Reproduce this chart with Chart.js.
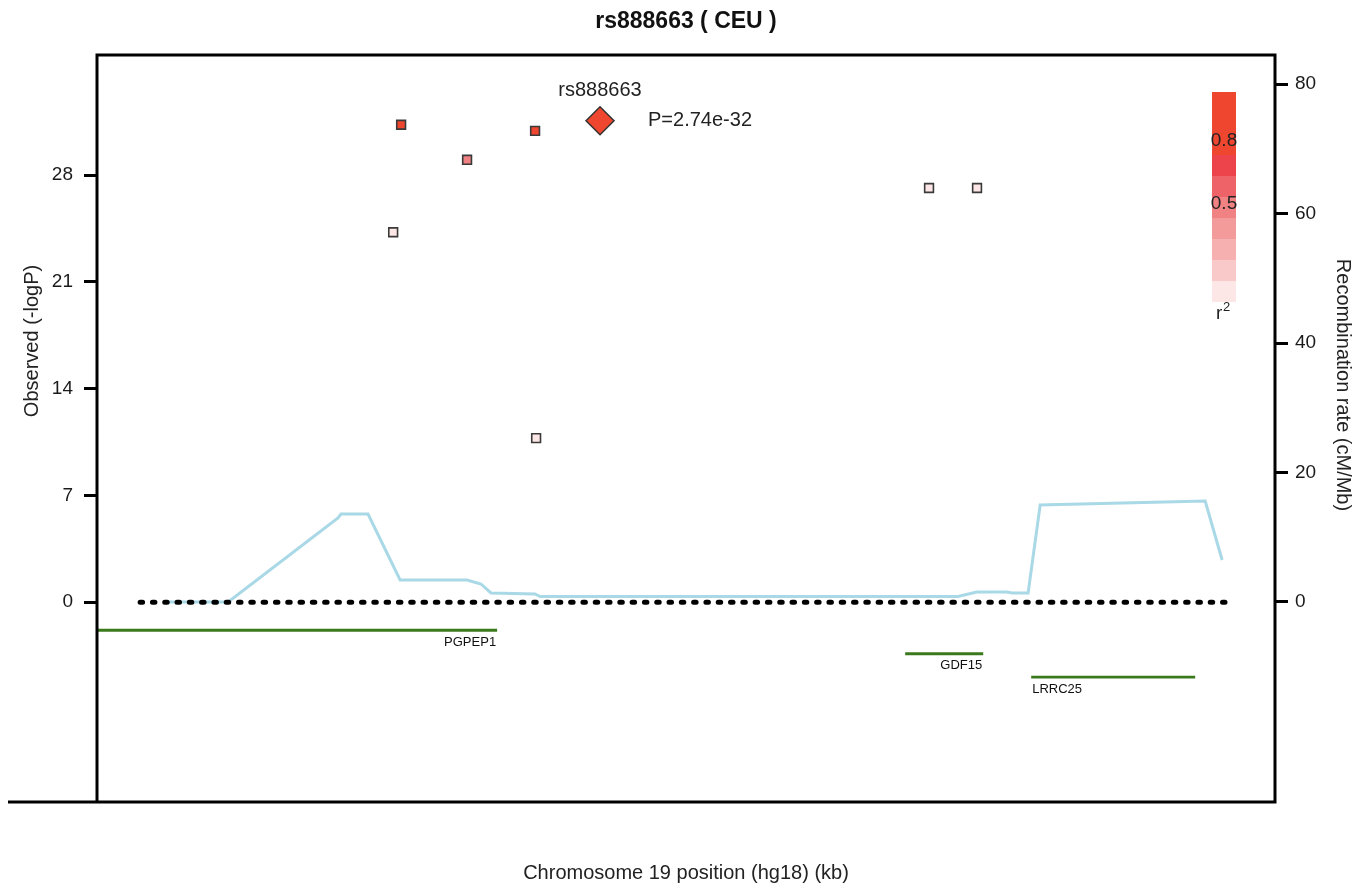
<!DOCTYPE html>
<html>
<head>
<meta charset="utf-8">
<script src="https://cdn.jsdelivr.net/npm/chart.js@4.4.1/dist/chart.umd.min.js"></script>
<style>
  html, body { margin: 0; padding: 0; background: #fff; }
  #wrap { width: 1370px; height: 890px; }
</style>
</head>
<body>
<div id="wrap"><canvas id="locusChart"></canvas></div>
<script>
// SNPs around the index SNP (position kb, -log10 P, r2 with index)
const snpPos  = [18338.04, 18338.35, 18340.92, 18343.57, 18343.61, 18358.92, 18360.79];
const snpLogP = [24.25, 31.3, 29.0, 30.9, 10.75, 27.15, 27.15];
const snpR2   = [0.03, 0.95, 0.45, 0.95, 0.03, 0.03, 0.03];

const indexName = "rs888663";
const indexPos = 18346.10;
const indexLogP = 31.56;
const indexPval = "2.74e-32";

// recombination rate (cM/Mb)
const recombPos  = [18329.27, 18331.61, 18335.89, 18336.01, 18337.06, 18338.31, 18340.92, 18341.46,
                    18341.85, 18343.57, 18343.76, 18360.05, 18360.78, 18361.95, 18362.15, 18362.78,
                    18363.25, 18369.68, 18370.34];
const recombRate = [0, 0, 12.97, 13.59, 13.59, 3.40, 3.40, 2.78,
                    1.39, 1.24, 0.85, 0.85, 1.54, 1.54, 1.39, 1.39,
                    14.98, 15.6, 6.49];

// genes
const geneNames  = ["PGPEP1", "GDF15", "LRRC25"];
const geneStart  = [18313.0, 18357.99, 18362.90];
const geneEnd    = [18342.09, 18361.03, 18369.29];
const geneStrand = ["+", "+", "-"];
const geneRow    = [1, 2, 3];

// axes
const xRange = [18326.5, 18372.4];
const logPTicks = [0, 7, 14, 21, 28];
const recombTicks = [0, 20, 40, 60, 80];
const r2Labels = [0.8, 0.5];

const FONT = '"Liberation Sans", Arial, Helvetica, sans-serif';
const r2Colors = ["#fde6e6", "#f9c9c9", "#f6b0b0", "#f39a9a", "#f08283", "#ee6367", "#ec444a",
                  "#ef4630", "#ef4630", "#ef4630"];
const r2Color = r => r2Colors[Math.min(9, Math.floor(r * 10))];
const rowY = row => -0.3 - 1.54 * row;

const geneSets = geneNames.map((name, i) => ({
  type: "line",
  label: name,
  data: [{ x: geneStart[i], y: rowY(geneRow[i]) }, { x: geneEnd[i], y: rowY(geneRow[i]) }],
  borderColor: "#3a7a1c",
  borderWidth: 2.8,
  pointRadius: 0,
  yAxisID: "y",
  order: 3
}));

const decorations = {
  id: "decorations",
  afterDatasetsDraw(chart) {
    const { ctx, chartArea: a, scales } = chart;
    const x = scales.x, y = scales.y;
    ctx.save();

    // frame, bottom line runs off to the left
    ctx.strokeStyle = "#000";
    ctx.lineWidth = 3;
    ctx.beginPath();
    ctx.moveTo(8, a.bottom);
    ctx.lineTo(a.right, a.bottom);
    ctx.lineTo(a.right, a.top);
    ctx.lineTo(a.left, a.top);
    ctx.lineTo(a.left, a.bottom);
    ctx.stroke();

    // gene labels
    ctx.fillStyle = "#111";
    ctx.font = "13px " + FONT;
    ctx.textBaseline = "middle";
    geneNames.forEach((name, i) => {
      const gy = y.getPixelForValue(rowY(geneRow[i])) + 12;
      if (geneStrand[i] === "+") {
        ctx.textAlign = "right";
        ctx.fillText(name, x.getPixelForValue(geneEnd[i]) - 1, gy);
      } else {
        ctx.textAlign = "left";
        ctx.fillText(name, x.getPixelForValue(geneStart[i]) + 1, gy);
      }
    });

    // index SNP labels
    const ix = x.getPixelForValue(indexPos), iy = y.getPixelForValue(indexLogP);
    ctx.fillStyle = "#222";
    ctx.font = "20px " + FONT;
    ctx.textAlign = "center";
    ctx.fillText(indexName, ix, iy - 30);
    ctx.textAlign = "left";
    ctx.fillText("P=" + indexPval, ix + 48, iy);

    // r2 colour key
    const kx = a.right - 63, ky = a.top + 37, kw = 24, kh = 21;
    for (let i = 0; i < 10; i++) {
      ctx.fillStyle = r2Colors[9 - i];
      ctx.fillRect(kx, ky + i * kh, kw, kh);
    }
    ctx.fillStyle = "#222";
    ctx.font = "19px " + FONT;
    ctx.textAlign = "center";
    r2Labels.forEach(v => ctx.fillText(String(v), kx + kw / 2, ky + (1 - v) * 10 * kh + 7));
    ctx.textAlign = "left";
    ctx.fillText("r", kx + 4, ky + 10 * kh + 12);
    ctx.font = "13px " + FONT;
    ctx.fillText("2", kx + 11, ky + 10 * kh + 5);

    // titles
    ctx.textAlign = "center";
    ctx.fillStyle = "#111";
    ctx.font = "bold 23px " + FONT;
    ctx.fillText("rs888663 ( CEU )", (a.left + a.right) / 2, 22);
    ctx.font = "20px " + FONT;
    ctx.fillStyle = "#222";
    ctx.fillText("Chromosome 19 position (hg18) (kb)", (a.left + a.right) / 2, 873);

    ctx.save();
    ctx.translate(32, 341);
    ctx.rotate(-Math.PI / 2);
    ctx.fillText("Observed (-logP)", 0, 0);
    ctx.restore();

    ctx.save();
    ctx.translate(1343, 385);
    ctx.rotate(Math.PI / 2);
    ctx.fillText("Recombination rate (cM/Mb)", 0, 0);
    ctx.restore();

    ctx.restore();
  }
};

const ctx = document.getElementById("locusChart").getContext("2d");
new Chart(ctx, {
  data: {
    datasets: [
      {
        type: "scatter",
        label: indexName,
        data: [{ x: indexPos, y: indexLogP }],
        pointStyle: "rectRot",
        pointRadius: 14,
        backgroundColor: r2Color(1),
        borderColor: "#333",
        borderWidth: 1.5,
        yAxisID: "y",
        order: 0
      },
      {
        type: "scatter",
        label: "SNPs",
        data: snpPos.map((p, i) => ({ x: p, y: snpLogP[i] })),
        pointStyle: "rect",
        pointRadius: 6.2,
        backgroundColor: snpR2.map(r2Color),
        borderColor: "#3a3a3a",
        borderWidth: 1.6,
        yAxisID: "y",
        order: 1
      },
      {
        type: "line",
        label: "zero",
        data: [{ x: 18328.18, y: 0 }, { x: 18370.46, y: 0 }],
        borderColor: "#000",
        borderWidth: 5,
        borderDash: [2.5, 9.8],
        borderCapStyle: "round",
        pointRadius: 0,
        yAxisID: "y",
        order: 2
      },
      ...geneSets,
      {
        type: "line",
        label: "Recombination rate",
        data: recombPos.map((p, i) => ({ x: p, y: recombRate[i] })),
        borderColor: "#a9d8e6",
        borderWidth: 3,
        pointRadius: 0,
        tension: 0,
        yAxisID: "y2",
        order: 5
      }
    ]
  },
  options: {
    responsive: true,
    maintainAspectRatio: false,
    animation: false,
    layout: { padding: { top: 55, bottom: 88, left: 0, right: 0 } },
    plugins: { legend: { display: false }, tooltip: { enabled: false }, title: { display: false } },
    scales: {
      x: { type: "linear", min: xRange[0], max: xRange[1], display: false },
      y: {
        type: "linear",
        position: "left",
        min: -13.1,
        max: 35.87,
        afterFit: s => { s.width = 97; },
        afterBuildTicks: s => { s.ticks = logPTicks.map(v => ({ value: v })); },
        border: { display: false },
        grid: { display: true, drawOnChartArea: false, drawTicks: true, tickLength: 13, tickWidth: 3, tickColor: "#000" },
        ticks: { padding: 11, color: "#1a1a1a", font: { family: FONT, size: 19 } }
      },
      y2: {
        type: "linear",
        position: "right",
        min: -30.9,
        max: 84.5,
        afterFit: s => { s.width = 95; },
        afterBuildTicks: s => { s.ticks = recombTicks.map(v => ({ value: v })); },
        border: { display: false },
        grid: { display: true, drawOnChartArea: false, drawTicks: true, tickLength: 13, tickWidth: 3, tickColor: "#000" },
        ticks: { padding: 7, color: "#1a1a1a", font: { family: FONT, size: 19 } }
      }
    }
  },
  plugins: [decorations]
});
</script>
</body>
</html>
